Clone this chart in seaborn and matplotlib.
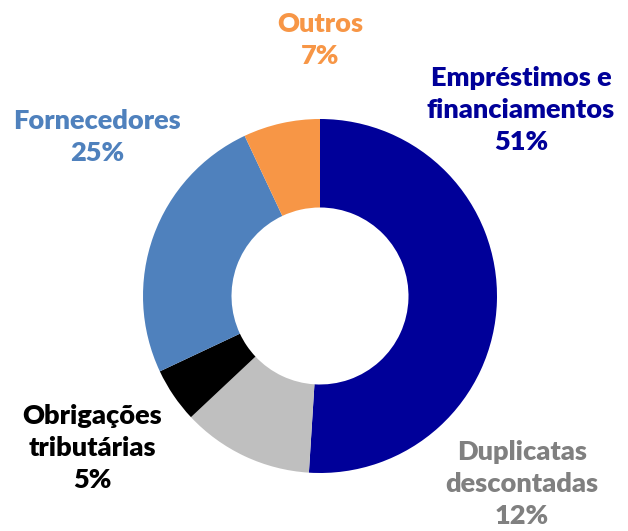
import matplotlib
matplotlib.use("Agg")
import matplotlib.pyplot as plt
import seaborn as sns

sns.set_theme(style="white")
plt.rcParams['font.family'] = ['Lato', 'DejaVu Sans']

categories = ["Empréstimos e\nfinanciamentos", "Duplicatas\ndescontadas",
              "Obrigações\ntributárias", "Fornecedores", "Outros"]
values = [51, 12, 5, 25, 7]
colors = ["#000099", "#BFBFBF", "#000000", "#4F81BD", "#F79646"]
text_colors = ["#000099", "#808080", "#000000", "#4F81BD", "#F79646"]
# label centers in figure pixels (x, y from top)
label_pos = [(521, 110), (522, 484), (92, 448), (97, 137), (320, 40)]

W, H = 628, 531
fig = plt.figure(figsize=(W / 100, H / 100), dpi=100)
cx, cy, r = 320, 296, 177
ax = fig.add_axes([(cx - r) / W, (H - cy - r) / H, 2 * r / W, 2 * r / H])
ax.pie(values, colors=colors, startangle=90, counterclock=False,
       wedgeprops=dict(width=0.5, edgecolor="none"), radius=1.0)
ax.set_xlim(-1, 1)
ax.set_ylim(-1, 1)
ax.set_aspect("equal")
ax.axis("off")

for cat, val, tc, (px, py) in zip(categories, values, text_colors, label_pos):
    fig.text(px / W, 1 - py / H, f"{cat}\n{val}%", ha="center", va="center",
             color=tc, fontsize=19.5, fontweight="heavy", linespacing=1.42)

fig.savefig("out.png", dpi=100)
